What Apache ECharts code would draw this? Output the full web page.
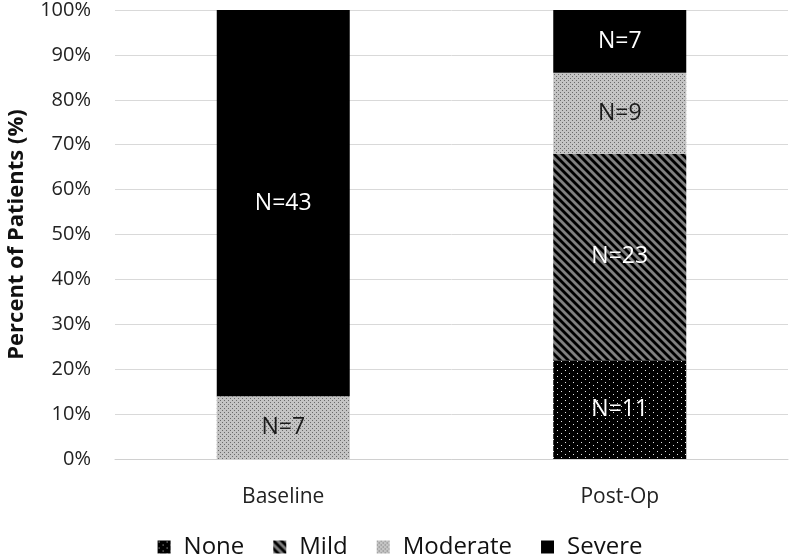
<!DOCTYPE html>
<html><head><meta charset="utf-8">
<script src="https://cdn.jsdelivr.net/npm/echarts@6/dist/echarts.min.js"></script>
<style>html,body{margin:0;padding:0;background:#fff}#c{width:800px;height:554px}</style>
</head><body><div id="c"></div>
<script>
const categories = ['Baseline', 'Post-Op'];
const seriesNames = ['None', 'Mild', 'Moderate', 'Severe'];
const noneCounts = [0, 11];
const mildCounts = [0, 23];
const moderateCounts = [7, 9];
const severeCounts = [43, 7];
const yTicks = [0, 10, 20, 30, 40, 50, 60, 70, 80, 90, 100];

const allCounts = [noneCounts, mildCounts, moderateCounts, severeCounts];
const totals = categories.map((c, i) => allCounts.reduce((s, a) => s + a[i], 0));

function tile(w, h, draw) {
  const cv = document.createElement('canvas');
  cv.width = w; cv.height = h;
  const ctx = cv.getContext('2d');
  draw(ctx);
  return { image: cv, repeat: 'repeat' };
}
const nonePat = tile(8, 6, ctx => {
  ctx.fillStyle = '#000'; ctx.fillRect(0, 0, 8, 6);
  ctx.fillStyle = '#e8e8e8';
  ctx.fillRect(1, 1, 1, 1); ctx.fillRect(5, 4, 1, 1);
});
const mildPat = tile(8, 8, ctx => {
  ctx.fillStyle = '#808080'; ctx.fillRect(0, 0, 8, 8);
  ctx.strokeStyle = '#000'; ctx.lineWidth = 2.8;
  for (const o of [-8, 0, 8]) {
    ctx.beginPath(); ctx.moveTo(o - 1, -1); ctx.lineTo(o + 9, 9); ctx.stroke();
  }
});
const modPat = tile(4, 4, ctx => {
  ctx.fillStyle = '#c4c4c4'; ctx.fillRect(0, 0, 4, 4);
  ctx.fillStyle = '#6a6a6a';
  ctx.fillRect(0, 0, 1, 1); ctx.fillRect(2, 2, 1, 1);
});
const colors = [nonePat, mildPat, modPat, '#000'];
const labelColors = ['#fff', '#fff', '#1a1a1a', '#fff'];

const font = '"Open Sans", "Noto Sans", sans-serif';

const series = seriesNames.map((name, k) => ({
  name,
  type: 'bar',
  stack: 'total',
  barWidth: 133,
  data: allCounts[k].map((v, i) => v === 0 ? null : v / totals[i] * 100),
  itemStyle: { color: colors[k] },
  label: {
    show: true,
    position: 'inside',
    color: labelColors[k],
    fontFamily: font,
    fontSize: 23,
    formatter: p => 'N=' + allCounts[k][p.dataIndex]
  }
}));

const chart = echarts.init(document.getElementById('c'), null, { renderer: 'canvas' });
chart.setOption({
  animation: false,
  grid: { left: 115, right: 12, top: 10, bottom: 95, containLabel: false, outerBoundsMode: 'none' },
  legend: {
    top: 530,
    left: 'center',
    itemWidth: 13,
    itemHeight: 13,
    itemGap: 29,
    icon: 'rect',
    textStyle: { fontFamily: font, fontSize: 24, color: '#111', padding: [0, 0, 0, 8] },
    data: seriesNames
  },
  xAxis: {
    type: 'category',
    data: categories,
    axisLine: { lineStyle: { color: '#d0d0d0' } },
    axisTick: { show: false },
    axisLabel: { fontFamily: font, fontSize: 21, color: '#222', margin: 28 }
  },
  yAxis: {
    type: 'value',
    min: 0, max: 100, interval: 10,
    name: 'Percent of Patients (%)',
    nameLocation: 'middle',
    nameGap: 87,
    nameTextStyle: { fontFamily: font, fontSize: 22, fontWeight: 'bold', color: '#111' },
    axisLabel: {
      fontFamily: font, fontSize: 20, color: '#222', margin: 24,
      formatter: v => yTicks.includes(v) ? v + '%' : ''
    },
    splitLine: { lineStyle: { color: '#d9d9d9' } },
    axisLine: { show: false },
    axisTick: { show: false }
  },
  series
});
</script></body></html>
